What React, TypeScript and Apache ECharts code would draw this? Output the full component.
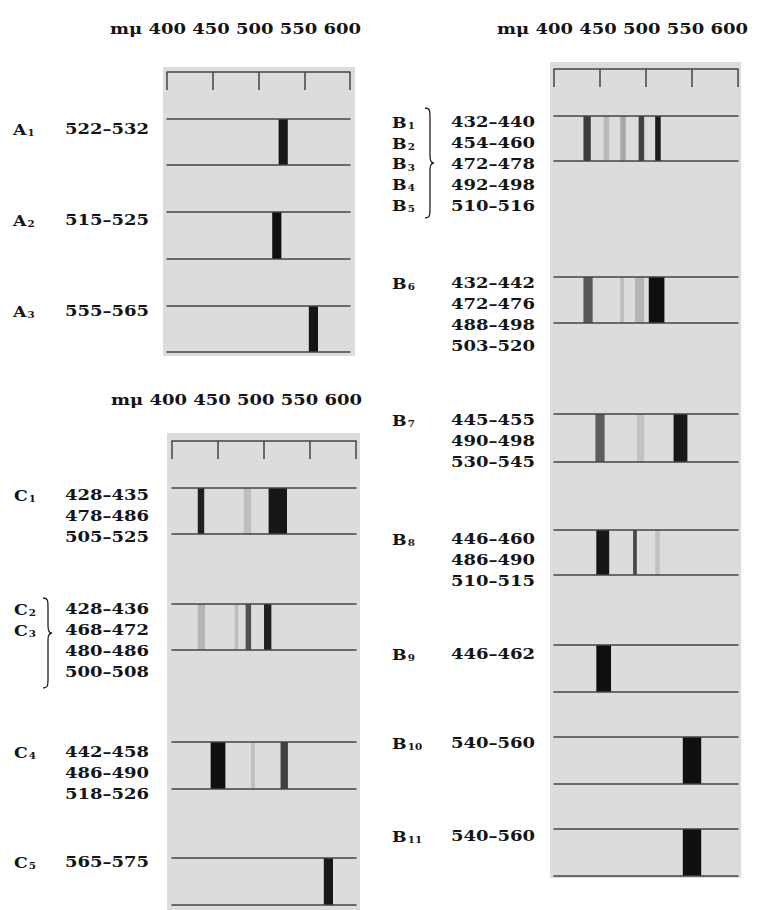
import React, { useEffect, useRef } from "react";
import * as echarts from "echarts";

// ---------------- data ----------------
const WAVE_MIN = 400;
const WAVE_MAX = 600;
const WAVE_STEP = 50;
const HEADER_UNIT = "mμ";
const HEADER_TICKS = [400, 450, 500, 550, 600];

// band = [from nm, to nm, darkness 0..1]
const A_NAMES = [["A1"], ["A2"], ["A3"]];
const A_BANDS = [
  [[522, 532, 0.93]],
  [[515, 525, 0.96]],
  [[555, 565, 0.93]],
];

const B_NAMES = [["B1", "B2", "B3", "B4", "B5"], ["B6"], ["B7"], ["B8"], ["B9"], ["B10"], ["B11"]];
const B_BANDS = [
  [[432, 440, 0.75], [454, 460, 0.16], [472, 478, 0.25], [492, 498, 0.72], [510, 516, 0.9]],
  [[432, 442, 0.62], [472, 476, 0.14], [488, 498, 0.18], [503, 520, 0.96]],
  [[445, 455, 0.6], [490, 498, 0.12], [530, 545, 0.92]],
  [[446, 460, 0.93], [486, 490, 0.7], [510, 515, 0.12]],
  [[446, 462, 0.96]],
  [[540, 560, 0.96]],
  [[540, 560, 0.96]],
];

const C_NAMES = [["C1"], ["C2", "C3"], ["C4"], ["C5"]];
const C_BANDS = [
  [[428, 435, 0.88], [478, 486, 0.14], [505, 525, 0.93]],
  [[428, 436, 0.18], [468, 472, 0.14], [480, 486, 0.65], [500, 508, 0.88]],
  [[442, 458, 0.96], [486, 490, 0.14], [518, 526, 0.72]],
  [[565, 575, 0.92]],
];

// ---------------- layout / style ----------------
const FONT = "DejaVu Serif";
const INK = "#151515";
const LINE = "#444444";
const PAPER = "#dcdcdc";
const LINE_STEP = 20.9;
const TEXT_SCALE = 1.2;

const PANELS = [
  {
    names: A_NAMES, bands: A_BANDS,
    axisLeft: 167, axisWidth: 183, bg: [163, 67, 192, 289], rulerTop: 72,
    strips: [[119, 165], [212, 259], [306, 352]],
    labelY: [129, 220, 311], headerX: 110, headerY: 29, numRight: 149, letterX: 13,
    brace: null as null | { name: string; x: number; y: number },
  },
  {
    names: B_NAMES, bands: B_BANDS,
    axisLeft: 554, axisWidth: 184, bg: [550, 62, 191, 816], rulerTop: 69,
    strips: [[116, 161], [277, 323], [414, 462], [530, 575], [645, 692], [737, 784], [829, 876]],
    labelY: [122, 283, 420, 539, 654, 743, 836], headerX: 497, headerY: 29, numRight: 535, letterX: 392,
    brace: { name: "braceB", x: 425, y: 108 },
  },
  {
    names: C_NAMES, bands: C_BANDS,
    axisLeft: 172, axisWidth: 184, bg: [167, 433, 193, 477], rulerTop: 441,
    strips: [[488, 534], [604, 650], [742, 789], [858, 905]],
    labelY: [495, 609, 752, 862], headerX: 111, headerY: 400, numRight: 149, letterX: 14,
    brace: { name: "braceC", x: 43, y: 598 },
  },
];

echarts.graphic.registerShape(
  "braceB",
  echarts.graphic.extendPath(
    "M0 0 C5 0 5 3 5 10 L5 48 C5 52 6 55 9 55 C6 55 5 58 5 62 L5 100 C5 107 5 110 0 110",
    {}
  )
);
echarts.graphic.registerShape(
  "braceC",
  echarts.graphic.extendPath(
    "M0 0 C5 0 5 3 5 10 L5 28 C5 32 6 35 9 35 C6 35 5 38 5 42 L5 80 C5 87 5 90 0 90",
    {}
  )
);

function buildOption() {
  const grid: any[] = [];
  const xAxis: any[] = [];
  const yAxis: any[] = [];
  const series: any[] = [];
  const graphic: any[] = [];

  const hiddenY = (g: number) => ({ gridIndex: g, type: "value", min: 0, max: 1, show: false });
  const lineStyle = { color: LINE, width: 1.5 };

  PANELS.forEach((p) => {
    // paper background
    graphic.push({
      type: "rect", silent: true, z: -10,
      shape: { x: p.bg[0], y: p.bg[1], width: p.bg[2], height: p.bg[3] },
      style: { fill: PAPER },
    });
    // header
    graphic.push({
      type: "text", x: p.headerX, y: p.headerY, scaleX: TEXT_SCALE, silent: true,
      style: {
        text: [HEADER_UNIT, ...HEADER_TICKS.map(String)].join(" "),
        fill: INK, fontSize: 15, fontWeight: "bold", fontFamily: FONT,
        align: "left", textAlign: "left", verticalAlign: "middle", textVerticalAlign: "middle",
      },
    });
    // ruler
    const rg = grid.length;
    grid.push({ left: p.axisLeft, top: p.rulerTop, width: p.axisWidth, height: 18 });
    xAxis.push({
      gridIndex: rg, type: "value", min: WAVE_MIN, max: WAVE_MAX, interval: WAVE_STEP,
      position: "top", z: 5,
      axisLine: { show: true, onZero: false, lineStyle },
      axisTick: { show: true, inside: true, length: 18, lineStyle },
      axisLabel: { show: false }, splitLine: { show: false },
    });
    yAxis.push(hiddenY(rg));

    // strips
    p.strips.forEach((s, i) => {
      const g = grid.length;
      grid.push({ left: p.axisLeft, top: s[0], width: p.axisWidth, height: s[1] - s[0] });
      const xi = xAxis.length;
      ["bottom", "top"].forEach((pos) =>
        xAxis.push({
          gridIndex: g, type: "value", min: WAVE_MIN, max: WAVE_MAX, position: pos, z: 5,
          axisLine: { show: true, onZero: false, lineStyle },
          axisTick: { show: false }, axisLabel: { show: false }, splitLine: { show: false },
        })
      );
      const yi = yAxis.length;
      yAxis.push(hiddenY(g));
      series.push({
        type: "custom",
        xAxisIndex: xi, yAxisIndex: yi,
        silent: true,
        data: p.bands[i],
        encode: { x: [0, 1] },
        renderItem: (params: any, api: any) => {
          const lo = api.value(0);
          const hi = api.value(1);
          const d = api.value(2);
          const a = api.coord([lo, 0]);
          const b = api.coord([hi, 1]);
          return {
            type: "rect",
            shape: { x: a[0], y: b[1], width: b[0] - a[0], height: a[1] - b[1] },
            style: { fill: `rgba(6,6,6,${d})` },
          };
        },
      });

      // range labels
      p.bands[i].forEach((band, k) => {
        graphic.push({
          type: "text", x: p.numRight, y: p.labelY[i] + k * LINE_STEP, scaleX: TEXT_SCALE, silent: true,
          style: {
            text: `${band[0]}–${band[1]}`,
            fill: INK, fontSize: 15, fontWeight: "bold", fontFamily: FONT,
            align: "right", textAlign: "right", verticalAlign: "middle", textVerticalAlign: "middle",
          },
        });
      });
      // sample names
      p.names[i].forEach((nm, k) => {
        graphic.push({
          type: "text", x: p.letterX, y: p.labelY[i] + k * LINE_STEP, scaleX: 1.15, silent: true,
          style: {
            text: `{m|${nm.charAt(0)}}{s|${nm.slice(1)}}`,
            fill: INK, fontFamily: FONT, fontWeight: "bold",
            align: "left", textAlign: "left", verticalAlign: "middle", textVerticalAlign: "middle",
            rich: {
              m: { fontSize: 15, fontWeight: "bold", fontFamily: FONT, fill: INK, lineHeight: 16, verticalAlign: "bottom" },
              s: { fontSize: 9, fontWeight: "bold", fontFamily: FONT, fill: INK, lineHeight: 10, verticalAlign: "bottom", padding: [0, 0, 0, 1] },
            },
          },
        });
      });
    });

    if (p.brace) {
      graphic.push({
        type: p.brace.name, x: p.brace.x, y: p.brace.y, silent: true,
        style: { stroke: "#222", lineWidth: 1.3, fill: "none" },
      });
    }
  });

  return {
    animation: false,
    backgroundColor: "#ffffff",
    grid, xAxis, yAxis, series, graphic,
  };
}

export default function App() {
  const ref = useRef<HTMLDivElement>(null);
  useEffect(() => {
    if (!ref.current) return;
    const chart = echarts.init(ref.current, null, { renderer: "svg" });
    chart.setOption(buildOption() as any);
    return () => chart.dispose();
  }, []);
  return (
    <div
      ref={ref}
      style={{ position: "absolute", left: 0, top: 0, width: 759, height: 910, background: "#fff" }}
    />
  );
}
